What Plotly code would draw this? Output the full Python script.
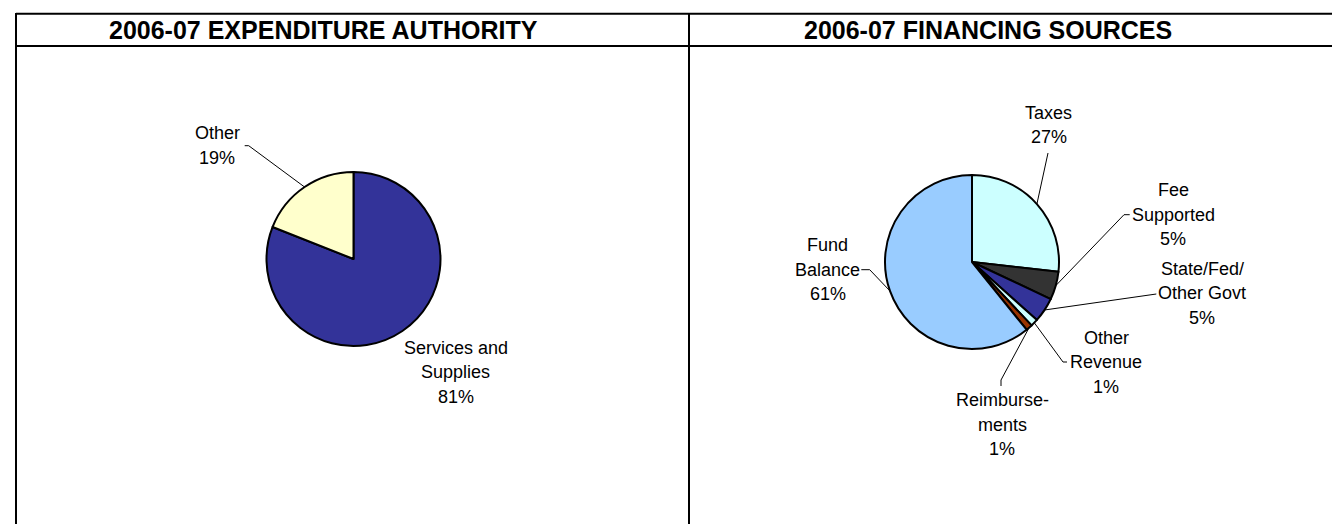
import math
import plotly.graph_objects as go

W, H = 1340, 524

# ---------------- data ----------------
exp_labels = ["Services and Supplies", "Other"]
exp_values = [81, 19]
exp_colors = ["#333399", "#FFFFCC"]
exp_text = [["Services and", "Supplies"], ["Other"]]

fin_labels = ["Taxes", "Fee Supported", "State/Fed/Other Govt",
              "Other Revenue", "Reimbursements", "Fund Balance"]
fin_values = [26.8, 5.2, 4.6, 1.4, 1.2, 60.8]
fin_colors = ["#CCFFFF", "#333333", "#333399", "#CCFFFF", "#993300", "#99CCFF"]
fin_text = [["Taxes"], ["Fee", "Supported"], ["State/Fed/", "Other Govt"],
            ["Other", "Revenue"], ["Reimburse-", "ments"], ["Fund", "Balance"]]

titles = ["2006-07 EXPENDITURE AUTHORITY", "2006-07 FINANCING SOURCES"]

# ---------------- layout / placement (pixels) ----------------
FONT = "Arial, 'Liberation Sans', sans-serif"
FS = 18
LINE = 24.5
R = 87
exp_center = (345.5, 251)
fin_center = (964, 254)

# label placement: (center x, center y of text block, leader points from label toward pie)
exp_place = [
    (447.5, 364, None),
    (209, 137.5, [(236.7, 137.7), (240.7, 137.7)]),
]
fin_place = [
    (1040.5, 117, [(1040, 145)]),
    (1165, 206.7, [(1121.7, 206.7), (1116, 206.7)]),
    (1194, 285, [(1148.3, 286)]),
    (1098, 354, [(1059, 354), (1055, 354)]),
    (994, 416.7, [(993, 378), (993, 372)]),
    (819.5, 261.7, [(853.3, 261.7), (861.7, 261.7)]),
]


def px_x(x):
    return x / W


def px_y(y):
    return 1 - y / H


def domain(center):
    cx, cy = center
    return dict(x=[px_x(cx - R), px_x(cx + R)], y=[px_y(cy + R), px_y(cy - R)])


fig = go.Figure()
for labels, values, colors, center in [
    (exp_labels, exp_values, exp_colors, exp_center),
    (fin_labels, fin_values, fin_colors, fin_center),
]:
    fig.add_trace(go.Pie(
        labels=labels, values=values, sort=False, direction="clockwise",
        rotation=0, textinfo="none", hoverinfo="label+percent",
        marker=dict(colors=colors, line=dict(color="black", width=2)),
        domain=domain(center), showlegend=False,
    ))

annotations = []
shapes = []


def add_labels(values, texts, places, center):
    total = sum(values)
    cum = 0
    cx, cy = center
    for v, t, (lx, ly, leader) in zip(values, texts, places):
        frac = (cum + v / 2) / total
        cum += v
        ang = math.radians(90 - 360 * frac)
        ax, ay = cx + R * math.cos(ang), cy - R * math.sin(ang)
        lines = list(t) + [f"{round(100 * v / total)}%"]
        n = len(lines)
        for i, s in enumerate(lines):
            y = ly + (i - (n - 1) / 2) * LINE
            annotations.append(dict(
                x=px_x(lx), y=px_y(y), xref="paper", yref="paper",
                text=s, showarrow=False, align="center",
                xanchor="center", yanchor="middle",
                font=dict(family=FONT, size=FS, color="black"),
            ))
        if leader:
            pts = leader + [(ax, ay)]
            path = "M " + " L ".join(f"{px_x(x)},{px_y(y)}" for x, y in pts)
            shapes.append(dict(type="path", path=path, xref="paper", yref="paper",
                               line=dict(color="black", width=1)))


add_labels(exp_values, exp_text, exp_place, exp_center)
add_labels(fin_values, fin_text, fin_place, fin_center)

# titles
for t, x in zip(titles, [315, 980]):
    annotations.append(dict(
        x=px_x(x), y=px_y(22), xref="paper", yref="paper", text=f"<b>{t}</b>",
        showarrow=False, xanchor="center", yanchor="middle",
        font=dict(family=FONT, size=25, color="black"),
    ))

# table frame
frame = [
    (8, 5.7, W, 5.7),
    (8, 38, W, 38),
    (8, 5, 8, H),
    (681, 5, 681, H),
]
for x0, y0, x1, y1 in frame:
    shapes.append(dict(type="line", xref="paper", yref="paper",
                       x0=px_x(x0), y0=px_y(y0), x1=px_x(x1), y1=px_y(y1),
                       line=dict(color="black", width=2)))

fig.update_layout(
    width=W, height=H, margin=dict(l=0, r=0, t=0, b=0),
    paper_bgcolor="white", plot_bgcolor="white",
    annotations=annotations, shapes=shapes,
)

fig.write_html("out.html")
